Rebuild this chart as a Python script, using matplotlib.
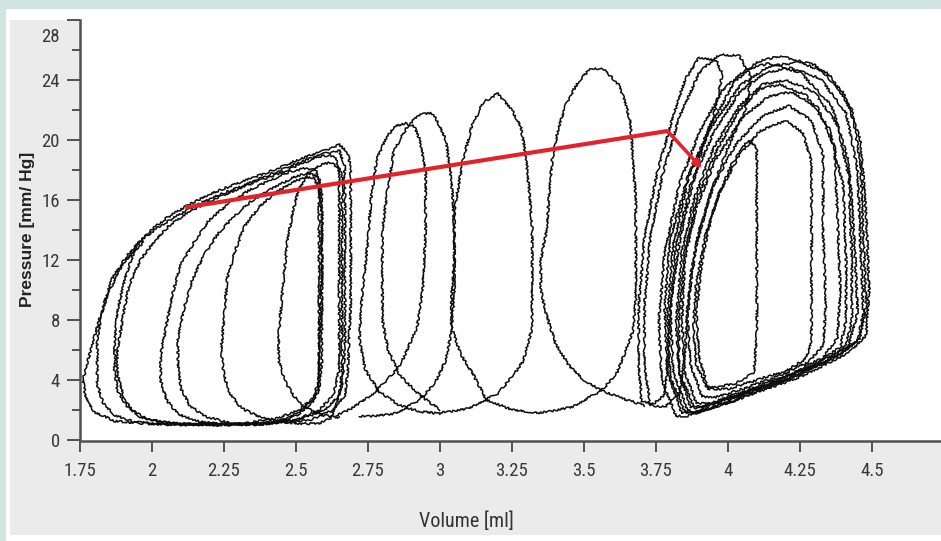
import matplotlib
matplotlib.use('Agg')
import matplotlib.pyplot as plt
from matplotlib import font_manager as fm
from matplotlib.font_manager import FontProperties
from matplotlib.patches import Rectangle

# ---------------- data (volume in ml, pressure in mm Hg) ----------------
b0_vol = [1.97, 1.90, 1.84, 1.80, 1.76, 1.77, 1.80, 1.87, 1.99]
b0_pres = [13.2, 11.8, 9.5, 6.9, 4.0, 2.8, 1.87, 1.27, 1.07]

b1_vol = [1.99, 2.34, 2.51, 2.60, 2.65, 2.66, 2.66, 2.66, 2.66, 2.67, 2.65, 2.60, 2.51, 2.41, 2.31, 2.20, 2.12, 2.03, 1.96, 1.91, 1.86, 1.83, 1.81, 1.81, 1.81, 1.83, 1.87, 1.94, 2.06]
b1_pres = [1.07, 1.07, 1.33, 2.0, 3.0, 4.67, 8.0, 12.0, 16.0, 18.3, 19.3, 19.1, 18.5, 17.7, 16.9, 16.1, 15.3, 14.3, 13.3, 12.2, 10.7, 8.7, 6.7, 5.0, 3.7, 2.5, 1.67, 1.2, 1.0]

b2_vol = [2.06, 2.38, 2.55, 2.63, 2.67, 2.68, 2.69, 2.69, 2.69, 2.68, 2.65, 2.60, 2.51, 2.41, 2.31, 2.20, 2.12, 2.05, 1.99, 1.94, 1.91, 1.88, 1.87, 1.87, 1.88, 1.91, 1.96, 2.05, 2.17]
b2_pres = [1.0, 1.07, 1.33, 2.0, 3.0, 4.67, 9.33, 14.7, 18.0, 19.2, 19.7, 19.3, 18.7, 17.9, 17.2, 16.4, 15.6, 14.8, 13.9, 12.7, 11.0, 8.67, 6.33, 4.67, 3.33, 2.33, 1.53, 1.13, 1.0]

b3_vol = [2.17, 2.34, 2.50, 2.58, 2.63, 2.65, 2.65, 2.65, 2.65, 2.64, 2.62, 2.58, 2.53, 2.43, 2.32, 2.22, 2.13, 2.06, 2.01, 1.96, 1.92, 1.90, 1.88, 1.88, 1.90, 1.93, 1.99, 2.10, 2.24]
b3_pres = [1.0, 1.07, 1.33, 2.0, 3.0, 4.67, 9.33, 14.0, 17.7, 18.7, 19.0, 18.9, 18.5, 17.7, 16.9, 16.1, 15.2, 14.3, 13.3, 12.0, 10.3, 8.33, 6.0, 4.33, 3.0, 2.0, 1.33, 1.07, 1.0]

b4_vol = [2.10, 2.31, 2.44, 2.51, 2.56, 2.58, 2.58, 2.59, 2.59, 2.58, 2.57, 2.53, 2.48, 2.41, 2.34, 2.27, 2.20, 2.15, 2.10, 2.07, 2.05, 2.03, 2.03, 2.05, 2.09, 2.17, 2.27]
b4_pres = [1.07, 1.07, 1.47, 2.0, 2.8, 4.0, 6.67, 10.7, 14.7, 17.0, 18.0, 18.1, 17.9, 17.3, 16.7, 15.8, 14.7, 13.3, 11.7, 9.67, 7.67, 5.67, 4.0, 2.67, 1.73, 1.2, 1.0]

b5_vol = [2.27, 2.41, 2.50, 2.55, 2.58, 2.59, 2.59, 2.59, 2.59, 2.58, 2.54, 2.49, 2.42, 2.35, 2.29, 2.23, 2.18, 2.14, 2.11, 2.09, 2.09, 2.10, 2.13, 2.18, 2.27, 2.38]
b5_pres = [1.0, 1.07, 1.6, 2.33, 3.33, 5.33, 9.33, 13.3, 16.3, 17.5, 17.8, 17.5, 16.8, 16.0, 15.0, 13.8, 12.3, 10.7, 8.67, 6.67, 5.0, 3.47, 2.33, 1.6, 1.13, 1.0]

b6_vol = [2.38, 2.46, 2.51, 2.56, 2.58, 2.58, 2.58, 2.58, 2.58, 2.56, 2.53, 2.49, 2.43, 2.37, 2.32, 2.29, 2.26, 2.25, 2.24, 2.25, 2.27, 2.31, 2.38, 2.48, 2.58]
b6_pres = [1.0, 1.33, 1.87, 2.67, 3.67, 6.0, 10.7, 14.7, 16.7, 17.5, 17.5, 17.2, 16.5, 15.5, 14.2, 12.7, 10.7, 8.0, 6.0, 4.33, 3.13, 2.13, 1.47, 1.13, 1.07]

b7_vol = [2.58, 2.62, 2.64, 2.66, 2.67, 2.67, 2.67, 2.67, 2.65, 2.62, 2.58, 2.54, 2.51, 2.49, 2.47, 2.46, 2.45, 2.44, 2.44, 2.46, 2.49, 2.53, 2.59, 2.65]
b7_pres = [1.07, 1.47, 2.33, 3.67, 6.0, 10.0, 14.0, 17.0, 18.1, 18.5, 18.3, 17.7, 16.7, 15.3, 13.3, 11.3, 9.33, 7.0, 5.33, 4.0, 3.0, 2.2, 1.67, 1.47]

m4_vol = [2.64, 2.70, 2.77, 2.86, 2.92, 2.94, 2.95, 2.95, 2.93, 2.91, 2.88, 2.84, 2.81, 2.78, 2.76, 2.75, 2.73, 2.72, 2.74, 2.79, 2.86, 2.93, 3.0]
m4_pres = [1.6, 2.2, 3.1, 4.9, 7.5, 10.0, 14.0, 18.0, 20.0, 20.9, 21.1, 20.9, 20.0, 18.7, 16.0, 13.3, 9.8, 6.7, 4.7, 3.2, 2.3, 1.9, 1.75]

m3_vol = [2.72, 2.83, 2.86, 2.93, 2.98, 3.02, 3.04, 3.05, 3.05, 3.04, 3.02, 2.99, 2.97, 2.93, 2.89, 2.84, 2.82, 2.80, 2.80, 2.80, 2.82, 2.86, 2.93, 3.0]
m3_pres = [1.55, 1.7, 1.9, 2.7, 3.7, 5.3, 7.3, 10.0, 14.0, 17.3, 20.0, 21.3, 21.8, 21.7, 21.0, 19.3, 17.0, 14.0, 10.7, 8.0, 6.0, 4.3, 3.0, 2.0]

m2_vol = [3.0, 3.10, 3.16, 3.20, 3.25, 3.29, 3.32, 3.32, 3.32, 3.31, 3.30, 3.28, 3.25, 3.20, 3.15, 3.11, 3.08, 3.05, 3.05, 3.04, 3.04, 3.07, 3.12, 3.16, 3.25, 3.35]
m2_pres = [1.8, 2.1, 2.7, 3.1, 4.2, 5.3, 7.5, 9.8, 14.2, 16.5, 18.7, 20.9, 22.0, 23.1, 22.5, 20.9, 18.7, 15.3, 12.0, 9.8, 7.5, 5.8, 4.2, 2.7, 2.0, 1.8]

m1_vol = [3.35, 3.46, 3.56, 3.61, 3.64, 3.67, 3.68, 3.68, 3.68, 3.67, 3.66, 3.64, 3.62, 3.58, 3.56, 3.52, 3.48, 3.44, 3.41, 3.39, 3.38, 3.37, 3.35, 3.35, 3.37, 3.40, 3.45, 3.50, 3.56, 3.63, 3.71]
m1_pres = [1.8, 2.2, 3.3, 4.3, 5.7, 7.3, 9.3, 12.0, 16.0, 18.7, 21.3, 22.7, 23.7, 24.5, 24.8, 24.7, 23.9, 22.5, 20.7, 18.7, 16.5, 14.0, 12.0, 10.0, 8.3, 6.5, 4.9, 4.0, 3.3, 2.8, 2.3]

r8_vol = [3.70, 3.69, 3.69, 3.71, 3.75, 3.80, 3.85, 3.90, 3.96, 3.98, 3.96, 3.92, 3.87, 3.83, 3.80, 3.79, 3.78, 3.74, 3.70]
r8_pres = [2.6, 5.0, 9.0, 13.5, 17.5, 21.0, 24.0, 25.5, 25.3, 24.4, 22.3, 20.0, 16.5, 13.0, 9.0, 5.0, 3.0, 2.4, 2.6]

r9_vol = [3.73, 3.71, 3.71, 3.73, 3.77, 3.83, 3.90, 3.97, 4.04, 4.08, 4.06, 4.00, 3.94, 3.89, 3.86, 3.85, 3.83, 3.78, 3.73]
r9_pres = [2.3, 5.0, 9.0, 13.5, 17.5, 21.5, 24.5, 25.7, 25.6, 24.2, 22.0, 19.5, 16.5, 13.0, 9.0, 5.5, 3.0, 2.2, 2.3]

r7_vol = [3.82, 3.77, 3.76, 3.78, 3.83, 3.90, 3.98, 4.06, 4.14, 4.25, 4.36, 4.42, 4.44, 4.45, 4.42, 4.32, 4.15, 3.98, 3.86, 3.82]
r7_pres = [1.6, 4.0, 8.0, 12.5, 17.0, 20.5, 23.3, 24.7, 25.1, 24.5, 22.3, 18.5, 13.0, 8.5, 6.3, 5.2, 3.8, 2.4, 1.6, 1.6]

r6_vol = [3.84, 3.79, 3.78, 3.80, 3.86, 3.94, 4.02, 4.10, 4.18, 4.30, 4.40, 4.46, 4.48, 4.49, 4.48, 4.42, 4.25, 4.02, 3.88, 3.84]
r6_pres = [1.8, 4.5, 9.0, 13.5, 17.5, 21.0, 23.8, 25.2, 25.6, 25.0, 23.2, 20.0, 15.0, 10.0, 7.0, 5.8, 4.2, 2.6, 1.8, 1.8]

r11_vol = [3.85, 3.80, 3.79, 3.81, 3.86, 3.94, 4.04, 4.14, 4.25, 4.35, 4.43, 4.46, 4.47, 4.48, 4.46, 4.39, 4.22, 4.02, 3.89, 3.85]
r11_pres = [1.9, 4.2, 8.5, 13.0, 17.3, 20.8, 23.6, 24.9, 25.2, 24.4, 22.0, 18.5, 13.5, 9.0, 6.8, 5.7, 4.1, 2.6, 1.8, 1.9]

r5_vol = [3.86, 3.81, 3.80, 3.82, 3.87, 3.95, 4.04, 4.13, 4.22, 4.32, 4.41, 4.45, 4.46, 4.47, 4.45, 4.37, 4.20, 4.00, 3.88, 3.86]
r5_pres = [2.0, 4.5, 8.5, 13.0, 17.0, 20.5, 23.2, 24.5, 24.8, 24.1, 21.8, 18.0, 13.0, 8.5, 6.6, 5.5, 4.0, 2.7, 1.9, 2.0]

r4_vol = [3.87, 3.83, 3.82, 3.84, 3.88, 3.95, 4.04, 4.12, 4.20, 4.30, 4.38, 4.42, 4.43, 4.43, 4.41, 4.33, 4.18, 4.00, 3.90, 3.87]
r4_pres = [2.2, 4.5, 8.0, 12.5, 16.0, 19.5, 22.3, 23.7, 24.0, 23.2, 21.0, 17.5, 12.0, 8.0, 6.3, 5.1, 3.9, 2.8, 2.1, 2.2]

r10_vol = [3.88, 3.83, 3.83, 3.85, 3.89, 3.96, 4.04, 4.11, 4.18, 4.27, 4.35, 4.40, 4.41, 4.41, 4.39, 4.30, 4.15, 3.99, 3.90, 3.88]
r10_pres = [2.3, 4.6, 8.5, 12.5, 16.0, 19.3, 22.0, 23.4, 23.7, 23.0, 20.8, 17.0, 12.0, 8.0, 6.2, 5.0, 3.8, 2.7, 2.2, 2.3]

r3_vol = [3.89, 3.85, 3.84, 3.85, 3.89, 3.96, 4.05, 4.14, 4.22, 4.31, 4.37, 4.38, 4.39, 4.38, 4.33, 4.22, 4.05, 3.93, 3.89]
r3_pres = [2.5, 4.5, 8.0, 12.0, 15.5, 18.8, 21.5, 22.9, 23.2, 22.2, 19.5, 15.0, 10.0, 6.8, 5.5, 4.4, 3.2, 2.4, 2.5]

r2_vol = [3.91, 3.87, 3.86, 3.87, 3.90, 3.95, 4.03, 4.12, 4.21, 4.29, 4.33, 4.33, 4.34, 4.33, 4.28, 4.18, 4.05, 3.95, 3.91]
r2_pres = [2.9, 5.0, 8.0, 11.0, 14.0, 17.0, 19.8, 21.6, 22.3, 21.3, 19.0, 14.0, 9.0, 6.3, 5.2, 4.3, 3.4, 2.8, 2.9]

r1_vol = [3.93, 3.89, 3.88, 3.89, 3.92, 3.97, 4.04, 4.11, 4.20, 4.26, 4.29, 4.29, 4.29, 4.29, 4.27, 4.20, 4.10, 4.00, 3.93]
r1_pres = [3.4, 5.0, 7.5, 10.5, 13.5, 16.5, 19.0, 20.6, 21.3, 20.5, 18.5, 14.0, 9.5, 6.5, 5.4, 4.6, 4.0, 3.4, 3.4]

r0_vol = [3.93, 3.90, 3.89, 3.91, 3.95, 4.01, 4.07, 4.10, 4.10, 4.10, 4.10, 4.09, 4.03, 3.96, 3.93]
r0_pres = [3.5, 5.5, 8.5, 12.0, 15.5, 18.3, 20.0, 19.5, 16.0, 11.0, 7.0, 4.5, 3.8, 3.5, 3.5]

# ESPVR line (red) and arrow
espvr_vol = [2.115, 3.79]
espvr_pres = [15.5, 20.6]
arrow_tip_vol = 3.91
arrow_tip_pres = 18.1

xticks = [1.75, 2, 2.25, 2.5, 2.75, 3, 3.25, 3.5, 3.75, 4, 4.25, 4.5]
xtick_labels = ['1.75', '2', '2.25', '2.5', '2.75', '3', '3.25', '3.5', '3.75', '4', '4.25', '4.5']
yticks = [0, 4, 8, 12, 16, 20, 24, 28]
ytick_labels = ['0', '4', '8', '12', '16', '20', '24', '28']
yminor = [2, 6, 10, 14, 18, 22, 26]

loops = [
    (b0_vol, b0_pres), (b1_vol, b1_pres), (b2_vol, b2_pres), (b3_vol, b3_pres),
    (b4_vol, b4_pres), (b5_vol, b5_pres), (b6_vol, b6_pres), (b7_vol, b7_pres),
    (m4_vol, m4_pres), (m3_vol, m3_pres), (m2_vol, m2_pres), (m1_vol, m1_pres),
    (r8_vol, r8_pres), (r9_vol, r9_pres), (r7_vol, r7_pres), (r6_vol, r6_pres),
    (r11_vol, r11_pres), (r5_vol, r5_pres), (r4_vol, r4_pres), (r10_vol, r10_pres),
    (r3_vol, r3_pres), (r2_vol, r2_pres), (r1_vol, r1_pres), (r0_vol, r0_pres),
]

# ---------------- fonts ----------------
def find_narrow():
    pref = ['Liberation Sans Narrow', 'Roboto Condensed', 'Open Sans Condensed',
            'DejaVu Sans Condensed']
    cands = []
    for f in fm.fontManager.ttflist:
        st = str(f.stretch).lower()
        if ('narrow' in f.name.lower() or 'condensed' in f.name.lower()
                or 'condensed' in st or st in ('300', '400')) \
                and str(f.weight) in ('normal', '400', 'regular', 'book') and f.style == 'normal':
            if 'mono' in f.name.lower() or 'serif' in f.name.lower() and 'sans' not in f.name.lower():
                continue
            cands.append(f)
    cands.sort(key=lambda f: pref.index(f.name) if f.name in pref else len(pref))
    return cands[0].fname if cands else None


narrow_file = find_narrow()


def tick_font(size):
    if narrow_file:
        return FontProperties(fname=narrow_file, size=size)
    return FontProperties(family=['Liberation Sans', 'DejaVu Sans'], size=size)


# ---------------- figure ----------------
W, H = 941, 541
fig = plt.figure(figsize=(W / 100, H / 100), dpi=100, facecolor='#d0e4e2')


def frect(x0, y0, x1, y1):
    return (x0 / W, 1 - y1 / H), (x1 - x0) / W, (y1 - y0) / H


for (x0, y0, x1, y1), col in [((6, 9, 941, 541), 'white'), ((10, 20, 941, 535), '#ebebeb')]:
    xy, w, h = frect(x0, y0, x1, y1)
    fig.patches.append(Rectangle(xy, w, h, transform=fig.transFigure,
                                 facecolor=col, edgecolor='none', zorder=-10))

xy, w, h = frect(80, 10, 941, 441)
ax = fig.add_axes([xy[0], xy[1], w, h])
ax.set_facecolor('white')
ax.set_xlim(1.75, 1.75 + 861 / 288)
ax.set_ylim(-1 / 15, 430 / 15)

for v, p in loops:
    ln, = ax.plot(v, p, color='#0d0d0d', lw=1.1, solid_joinstyle='miter')
    ln.set_sketch_params(scale=1.0, length=3.0, randomness=12)

red = '#e3232b'
ax.plot(espvr_vol, espvr_pres, color=red, lw=3.0, solid_capstyle='butt', zorder=5)
ax.annotate('', xy=(arrow_tip_vol, arrow_tip_pres), xytext=(espvr_vol[-1], espvr_pres[-1]),
            arrowprops=dict(arrowstyle='-|>', color=red, lw=2.6, mutation_scale=11,
                            shrinkA=0, shrinkB=0), zorder=5)

spc = '#505050'
for s in ['top', 'right']:
    ax.spines[s].set_visible(False)
ax.spines['left'].set_bounds(0, 28)
for s in ['left', 'bottom']:
    ax.spines[s].set_color(spc)
    ax.spines[s].set_linewidth(1.8)

ax.set_xticks(xticks)
ax.set_xticklabels(xtick_labels)
ax.set_yticks(yticks)
ax.set_yticklabels(ytick_labels[:-1] + [''])
ax.set_yticks(yminor, minor=True)
ax.tick_params(axis='x', which='major', length=8, width=1.4, color=spc, pad=7,
               labelcolor='#383838')
ax.tick_params(axis='y', which='major', length=9.5, width=1.4, color=spc, pad=5,
               labelcolor='#383838')
ax.tick_params(axis='y', which='minor', length=5.5, width=1.4, color=spc)
for lab in ax.get_xticklabels() + ax.get_yticklabels():
    lab.set_fontproperties(tick_font(13.5))

ax.annotate(ytick_labels[-1], xy=(0, 28), xycoords=('axes fraction', 'data'),
            xytext=(-20, -17), textcoords='offset pixels', ha='right', va='center',
            color='#383838', fontproperties=tick_font(13.5))

fig.text(466 / W, 1 - 521 / H, 'Volume [ml]', ha='center', va='center',
         color='#333333', fontproperties=tick_font(14.5))
fig.text(28 / W, 1 - 229 / H, 'Pressure [mm/ Hg]', ha='center', va='center', rotation=90,
         fontsize=12.5, fontweight='bold', color='#222222',
         family=['Liberation Sans', 'DejaVu Sans'])

fig.savefig('out.png', dpi=100, facecolor=fig.get_facecolor())
